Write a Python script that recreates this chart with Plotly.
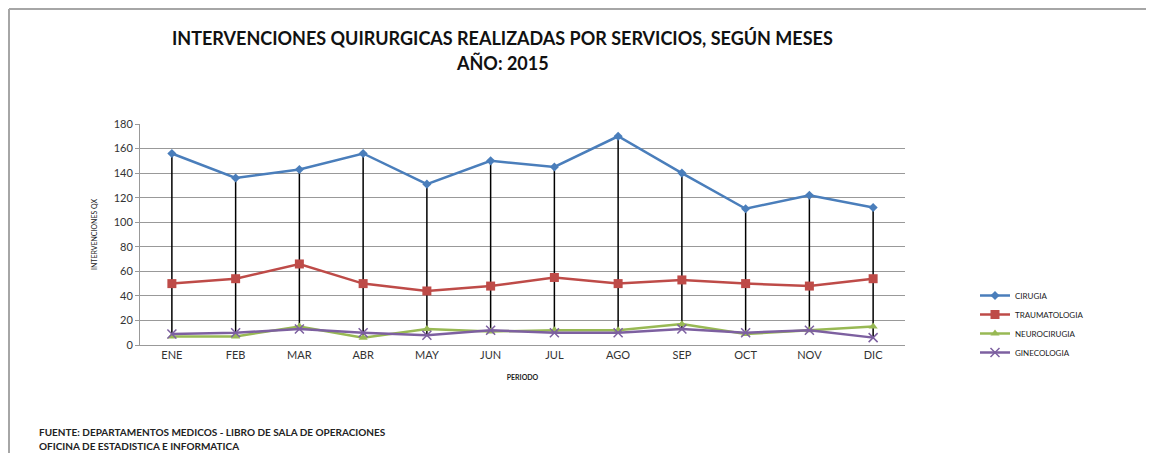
import plotly.graph_objects as go

meses = ["ENE", "FEB", "MAR", "ABR", "MAY", "JUN", "JUL", "AGO", "SEP", "OCT", "NOV", "DIC"]
cirugia = [156, 136, 143, 156, 131, 150, 145, 170, 140, 111, 122, 112]
traumatologia = [50, 54, 66, 50, 44, 48, 55, 50, 53, 50, 48, 54]
neurocirugia = [7, 7, 15, 6, 13, 11, 12, 12, 17, 9, 12, 15]
ginecologia = [9, 10, 13, 10, 8, 12, 10, 10, 13, 10, 12, 6]
y_ticks = [0, 20, 40, 60, 80, 100, 120, 140, 160, 180]

series = [
    ("CIRUGIA", cirugia, "#4A7EBB", "diamond", 7),
    ("TRAUMATOLOGIA", traumatologia, "#BE4B48", "square", 9),
    ("NEUROCIRUGIA", neurocirugia, "#98B954", "triangle-up", 8),
    ("GINECOLOGIA", ginecologia, "#7D60A0", "x-thin", 9),
]

# high-low lines: from max to min of all series per month
all_vals = [cirugia, traumatologia, neurocirugia, ginecologia]
hx, hy = [], []
for i, m in enumerate(meses):
    vals = [s[i] for s in all_vals]
    hx += [m, m, None]
    hy += [max(vals), min(vals), None]

fig = go.Figure()
fig.add_trace(go.Scatter(x=hx, y=hy, mode="lines", line=dict(color="black", width=1.5),
                         showlegend=False, hoverinfo="skip"))
for name, vals, col, sym, sz in series:
    if sym == "x-thin":
        marker = dict(symbol=sym, size=sz, line=dict(color=col, width=1.5), color=col)
    else:
        marker = dict(symbol=sym, size=sz, color=col)
    fig.add_trace(go.Scatter(x=meses, y=vals, name=name, mode="lines+markers",
                             line=dict(color=col, width=2.5), marker=marker,
                             legendgroup=name))

OFF = 8  # page body margin
L, R, T, B = 140 - OFF, 905 - OFF, 124 - OFF, 345 - OFF
W, H = 1138, 445
def px(x):
    return (x - OFF - L) / (R - L)
def py(y):
    return (B - (y - OFF)) / (B - T)

font_main = "Lato, 'Open Sans', sans-serif"

fig.update_layout(
    width=W, height=H,
    margin=dict(l=L, r=W - R, t=T, b=H - B, pad=0),
    paper_bgcolor="white", plot_bgcolor="white",
    font=dict(family=font_main, color="#222"),
    showlegend=True,
    legend=dict(x=px(975), y=py(281), xanchor="left", yanchor="top",
                font=dict(size=8, color="#222"), tracegroupgap=11,
                itemwidth=30, traceorder="normal", bgcolor="rgba(0,0,0,0)"),
    xaxis=dict(type="category", range=[-0.5, 11.5], showgrid=False,
               showline=True, linecolor="#999", linewidth=1, ticks="",
               tickfont=dict(size=11, color="#333"),
               title=dict(text="<b>PERIODO</b>", font=dict(size=7, color="#222"), standoff=14)),
    yaxis=dict(range=[0, 180], tickvals=y_ticks, showgrid=True, gridcolor="#999999",
               gridwidth=1.3, showline=True, linecolor="#999", linewidth=1,
               ticks="outside", ticklen=4, tickcolor="#999", zeroline=False,
               tickfont=dict(size=11, color="#333"),
               title=dict(text="INTERVENCIONES QX", font=dict(size=7, color="#222"), standoff=15)),
)

fig.add_annotation(text="<b>INTERVENCIONES QUIRURGICAS REALIZADAS POR SERVICIOS, SEGÚN MESES</b>",
                   xref="paper", yref="paper", x=px(502), y=py(38), xanchor="center",
                   yanchor="middle", showarrow=False, font=dict(size=18, color="#111"))
fig.add_annotation(text="<b>AÑO: 2015</b>",
                   xref="paper", yref="paper", x=px(502), y=py(63), xanchor="center",
                   yanchor="middle", showarrow=False, font=dict(size=18, color="#111"))
fig.add_annotation(text="<b>FUENTE: DEPARTAMENTOS MEDICOS - LIBRO DE SALA DE OPERACIONES</b>",
                   xref="paper", yref="paper", x=px(37), y=py(432), xanchor="left",
                   yanchor="middle", showarrow=False, font=dict(size=10, color="#222"))
fig.add_annotation(text="<b>OFICINA DE ESTADISTICA E INFORMATICA</b>",
                   xref="paper", yref="paper", x=px(37), y=py(446), xanchor="left",
                   yanchor="middle", showarrow=False, font=dict(size=10, color="#222"))

# outer frame (top and left edges), as close to the page corner as the page allows
fig.add_shape(type="line", xref="paper", yref="paper", x0=px(9), x1=px(1146), y0=py(9), y1=py(9),
              line=dict(color="#a6a6a6", width=2))
fig.add_shape(type="line", xref="paper", yref="paper", x0=px(9), x1=px(9), y0=py(9), y1=py(470),
              line=dict(color="#a6a6a6", width=2))

fig.write_html("out.html", config={"displayModeBar": False})
